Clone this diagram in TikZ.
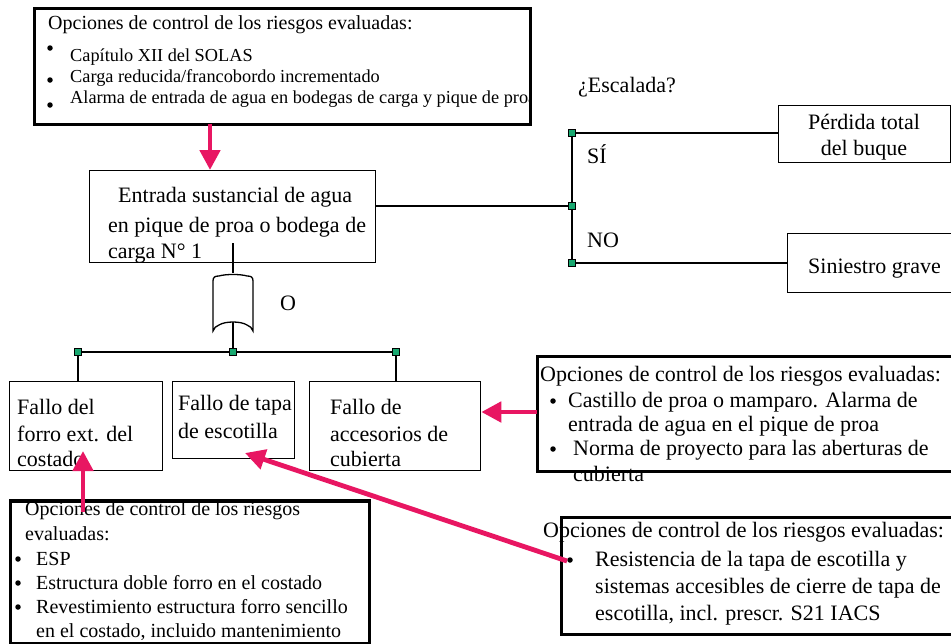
\documentclass[tikz,border=0pt]{standalone}
\usepackage{fontspec}
\setmainfont{Liberation Serif}
\usetikzlibrary{arrows.meta}
\definecolor{pinkarrow}{RGB}{232,22,98}
\definecolor{junc}{RGB}{24,168,112}
\begin{document}
\begin{tikzpicture}[x=1pt,y=-1pt,
  plainbox/.style={draw, line width=1.3pt, inner sep=0pt, anchor=north west},
  optbox/.style={draw, line width=2.8pt, inner sep=0pt, anchor=north west},
  txt/.style={anchor=base west, inner sep=0pt, font=\fontsize{22}{26}\selectfont},
  txtc/.style={anchor=base, inner sep=0pt, font=\fontsize{22}{26}\selectfont},
  txtm/.style={anchor=base west, inner sep=0pt, font=\fontsize{20}{24}\selectfont},
  txts/.style={anchor=base west, inner sep=0pt, font=\fontsize{18.3}{20}\selectfont},
  bul/.style={circle, fill=black, inner sep=0pt, minimum size=5.5pt},
  jsq/.style={draw=black, fill=junc, line width=0.6pt, minimum size=7pt, inner sep=0pt},
  parrow/.style={draw=pinkarrow, line width=4.8pt, -{Triangle[length=20pt,width=20pt]}},
  conn/.style={draw, line width=1.3pt}]
\clip (0,0) rectangle (951,643);
\fill[white] (0,0) rectangle (951,643);

% ---------- boxes ----------
\node[optbox, minimum width=496pt, minimum height=116pt] (top) at (33,7) {};
\node[plainbox, minimum width=286pt, minimum height=92pt] (entrada) at (89,170) {};
\node[plainbox, minimum width=172pt, minimum height=57pt] (perdida) at (778,105) {};
\node[plainbox, minimum width=200pt, minimum height=59pt] (siniestro) at (787,233) {};
\node[plainbox, minimum width=153pt, minimum height=89pt] (fallo1) at (9,381) {};
\node[plainbox, minimum width=122pt, minimum height=77pt] (fallo2) at (172,381) {};
\node[plainbox, minimum width=171pt, minimum height=89pt] (fallo3) at (309,381) {};
\node[optbox, minimum width=450pt, minimum height=115pt] (castillo) at (536,355) {};
\node[optbox, minimum width=359pt, minimum height=142pt] (forro) at (9,500) {};
\node[optbox, minimum width=420pt, minimum height=117pt] (tapa) at (560,516) {};

% ---------- texts: top options box ----------
\node[txtm] (tt) at (48,29) {Opciones de control de los riesgos evaluadas:};
\node[bul] (tb1) at (50,48) {};
\node[bul] (tb2) at (50,80) {};
\node[bul] (tb3) at (50,105) {};
\node[txts] (ti1) at (70,61) {Capítulo XII del SOLAS};
\node[txts] (ti2) at (70,82) {Carga reducida/francobordo incrementado};
\begin{scope}
\clip (33,7) rectangle (528,123);
\node[txts] (ti3) at (70,103) {Alarma de entrada de agua en bodegas de carga y pique de proa};
\end{scope}

% ---------- Entrada box ----------
\begin{scope}[every node/.append style={font=\fontsize{22.5}{27}\selectfont}]
\node[txt] (e1) at (118,202) {Entrada sustancial de agua};
\node[txt] (e2) at (108,232) {en pique de proa o bodega de};
\node[txt] (e3) at (108,258) {carga N° 1};
\end{scope}

% ---------- escalation ----------
\node[txt] (esc) at (578,92) {¿Escalada?};
\node[txt] (si) at (587,163) {SÍ};
\node[txt] (no) at (587,247) {NO};
\node[txtc] (p1) at (864,129) {Pérdida total};
\node[txtc] (p2) at (864,155) {del buque};
\node[txt] (sg) at (808,273) {Siniestro grave};
\node[txt] (olab) at (280,310) {O};

% ---------- failure boxes ----------
\node[txt] (f11) at (17,414) {Fallo del};
\node[txt] (f12) at (17,441) {forro ext. del};
\node[txt] (f13) at (17,466) {costado};
\node[txt] (f21) at (178,410) {Fallo de tapa};
\node[txt] (f22) at (178,438) {de escotilla};
\node[txt] (f31) at (330,414) {Fallo de};
\node[txt] (f32) at (330,441) {accesorios de};
\node[txt] (f33) at (330,466) {cubierta};

% ---------- Castillo options box ----------
\node[txt] (ct) at (540,381) {Opciones de control de los riesgos evaluadas:};
\node[bul] (cb1) at (553,401) {};
\node[txt] (c1) at (568,407) {Castillo de proa o mamparo. Alarma de};
\node[txt] (c2) at (568,431) {entrada de agua en el pique de proa};
\node[bul] (cb2) at (553,449) {};
\node[txt] (c3) at (573,455) {Norma de proyecto para las aberturas de};
\node[txt] (c4) at (573,481) {cubierta};

% ---------- forro options box ----------
\node[txtm] (ft1) at (25,515) {Opciones de control de los riesgos};
\node[txtm] (ft2) at (25,540) {evaluadas:};
\node[bul] (fb1) at (18,559) {};
\node[bul] (fb2) at (18,583) {};
\node[bul] (fb3) at (18,607) {};
\node[txtm] (fi1) at (36,565) {ESP};
\node[txtm] (fi2) at (36,589) {Estructura doble forro en el costado};
\node[txtm] (fi3) at (36,613) {Revestimiento estructura forro sencillo};
\node[txtm] (fi4) at (36,637) {en el costado, incluido mantenimiento};
\draw[line width=2.8pt] (forro.north west) -- (forro.north east);

% ---------- tapa options box ----------
\node[txt] (bt) at (543,537) {Opciones de control de los riesgos evaluadas:};
\node[bul] (bb1) at (570,560) {};
\node[txt] (b1) at (595,566) {Resistencia de la tapa de escotilla y};
\node[txt] (b2) at (595,593) {sistemas accesibles de cierre de tapa de};
\node[txt] (b3) at (595,620) {escotilla, incl. prescr. S21 IACS};

% ---------- junction coordinates ----------
\coordinate (j1) at (572,133);
\coordinate (j2) at (572,206);
\coordinate (j3) at (572,263);
\coordinate (k1) at (78,352);
\coordinate (k2) at (233,352);
\coordinate (k3) at (396,352);
\coordinate (gin) at (233,243);
\coordinate (gtop) at (233,273);
\coordinate (gbot) at (233,322);

% ---------- connectors ----------
\draw[conn] (j2) -- (j2 -| entrada.east);
\draw[conn] (j1) -- (j3);
\draw[conn] (j1) -- (j1 -| perdida.west);
\draw[conn] (j3) -- (j3 -| siniestro.west);
\draw[conn] (gin) -- (gtop);
\draw[conn] (gbot) -- (k2);
\draw[conn] (k1) -- (k3);
\draw[conn] (k1) -- (k1 |- fallo1.north);
\draw[conn] (k3) -- (k3 |- fallo3.north);

% ---------- OR gate ----------
\draw[line width=1.3pt, fill=white]
  (213,331) -- (213,281) .. controls (213,277) and (215,276) .. (219,276)
  .. controls (225,274) and (241,274) .. (247,276)
  .. controls (251,276) and (253,277) .. (253,281) -- (253,331)
  .. controls (252,328) and (250,326) .. (247,325)
  .. controls (241,321) and (225,321) .. (219,325)
  .. controls (216,326) and (214,328) .. (213,331) -- cycle;

% ---------- junction squares ----------
\node[jsq] (s1) at (j1) {};
\node[jsq] (s2) at (j2) {};
\node[jsq] (s3) at (j3) {};
\node[jsq] (s4) at (k1) {};
\node[jsq] (s5) at (k2) {};
\node[jsq] (s6) at (k3) {};

% ---------- pink arrows ----------
\coordinate (a1s) at (210,124);
\coordinate (a2s) at (537,412);
\coordinate (a3s) at (83,512);
\coordinate (a3e) at (83,451);
\coordinate (a4s) at (567,561);
\coordinate (a4e) at (245,453);
\draw[parrow] (a1s) -- (a1s |- entrada.north);
\draw[parrow] (a2s) -- (a2s -| fallo3.east);
\draw[parrow] (a3s) -- (a3e);
\draw[parrow] (a4s) -- (a4e);
\end{tikzpicture}
\end{document}
